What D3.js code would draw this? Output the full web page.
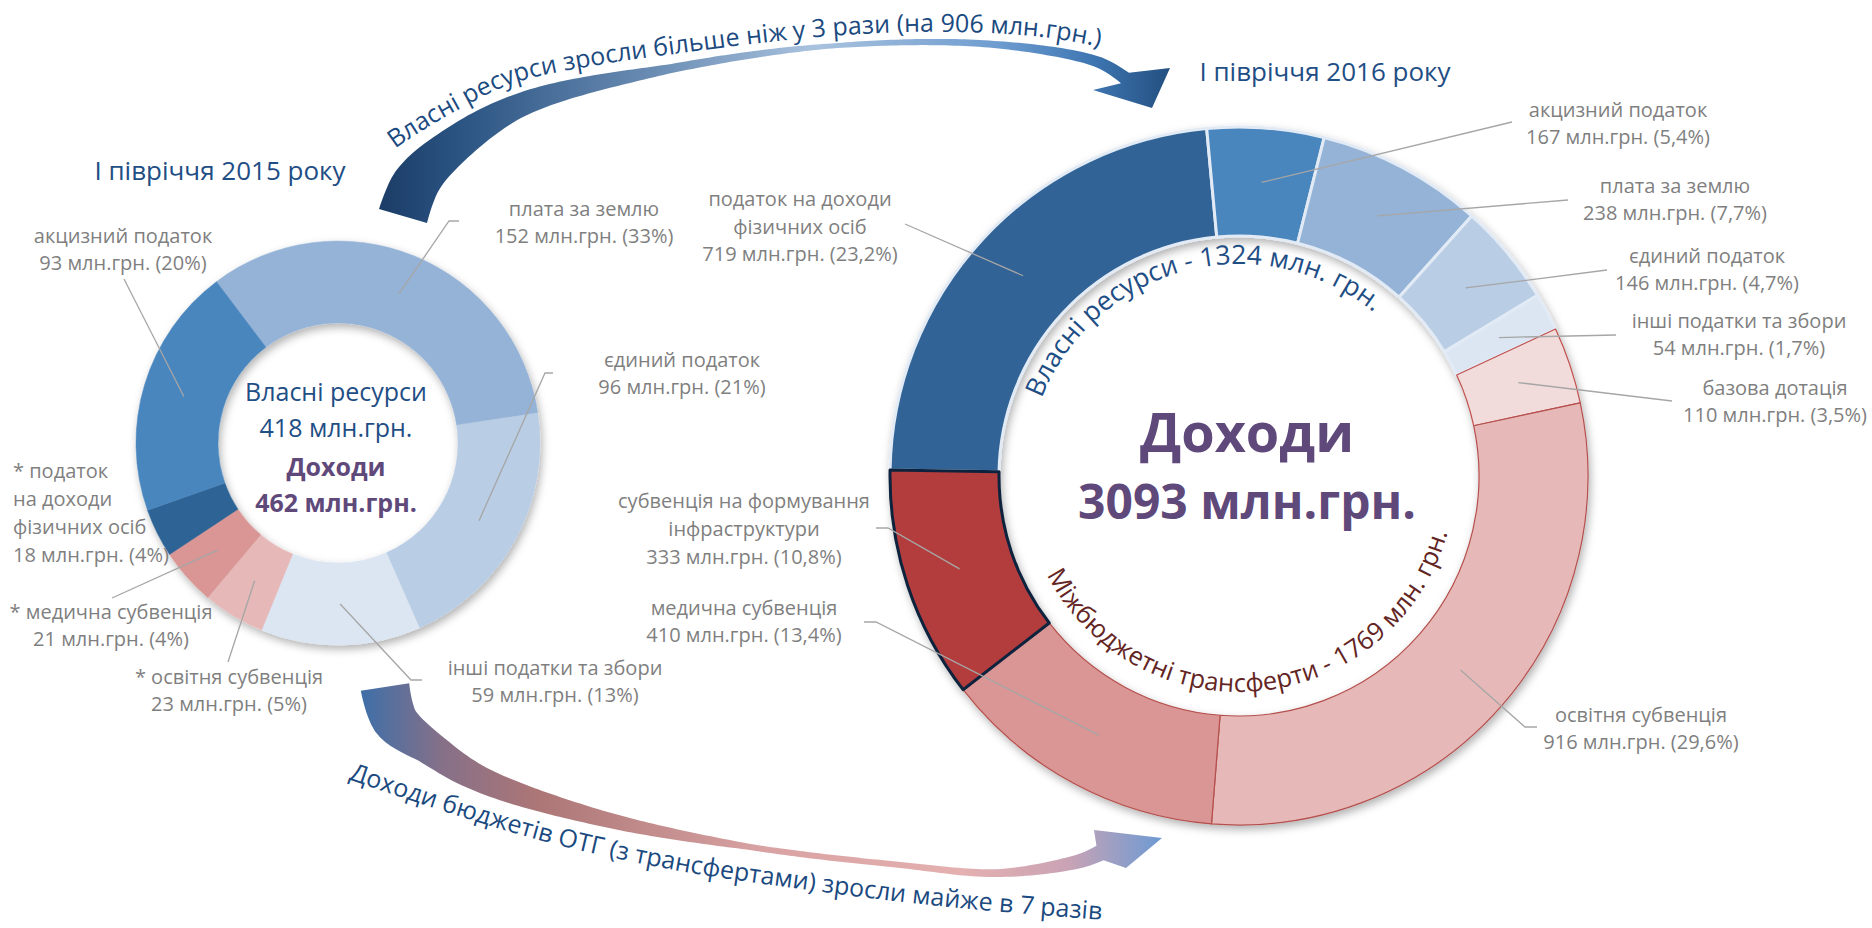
<!DOCTYPE html>
<html lang="uk">
<head>
<meta charset="UTF-8">
<title>Доходи бюджетів ОТГ</title>
<script src="https://d3js.org/d3.v7.min.js"></script>
<style>
  body { margin: 0; background: #fff; }
  svg { display: block; font-family: "Open Sans", sans-serif; }
  .lbl { fill: #7f7f7f; font-size: 20px; }
  .leader { fill: none; stroke: #a6a6a6; stroke-width: 1.3px; }
  .title { fill: #1f4e85; font-size: 26px; }
  .note { fill: #1b4a80; font-size: 25px; }
</style>
</head>
<body>
<svg id="chart" width="1872" height="928"></svg>
<script>
// ---- data: I півріччя 2015 ----
const names2015 = [["плата за землю"], ["єдиний податок"], ["інші податки та збори"],
  ["* освітня субвенція"], ["* медична субвенція"], ["* податок", "на доходи", "фізичних осіб"], ["акцизний податок"]];
const values2015 = [152, 96, 59, 23, 21, 18, 93];
const shares2015 = ["33%", "21%", "13%", "5%", "4%", "4%", "20%"];
const groups2015 = ["own", "own", "own", "tr", "tr", "own", "own"];

// ---- data: I півріччя 2016 ----
const names2016 = [["податок на доходи", "фізичних осіб"], ["акцизний податок"], ["плата за землю"],
  ["єдиний податок"], ["інші податки та збори"], ["базова дотація"], ["освітня субвенція"],
  ["медична субвенція"], ["субвенція на формування", "інфраструктури"]];
const values2016 = [719, 167, 238, 146, 54, 110, 916, 410, 333];
const shares2016 = ["23,2%", "5,4%", "7,7%", "4,7%", "1,7%", "3,5%", "29,6%", "13,4%", "10,8%"];
const groups2016 = ["own", "own", "own", "own", "own", "tr", "tr", "tr", "tr"];

const periods = ["І півріччя 2015 року", "І півріччя 2016 року"];

// ---- styles / layout ----
const colors2015 = ["#95b3d7", "#b9cde5", "#dce6f2", "#e6b9b8", "#d99694", "#2f6496", "#4a86be"];
const colors2016 = ["#316496", "#4a86be", "#95b3d7", "#b9cde5", "#dce6f2", "#f2dcdb", "#e6b9b8", "#d99694", "#b33c3d"];
const strokes2016 = ["#e2ebf5", "#e2ebf5", "#e2ebf5", "#e2ebf5", "#e2ebf5", "#c0504d", "#b5504e", "#b5504e", "#10243e"];
const strokeW2016 = [3, 3, 3, 3, 3, 1.2, 1.2, 1.2, 3];

const deg = Math.PI / 180;
const c15 = { x: 338, y: 443, r0: 120, r1: 202 };
const c16 = { x: 1239, y: 476, r0: 240, r1: 349 };

const layout2015 = [
  { x: 584, y: 216, leader: [[449, 221], [459, 221]] },
  { x: 682, y: 367, leader: [[545, 373], [553, 373]] },
  { x: 555, y: 675, leader: [[411, 680], [422, 680]] },
  { x: 229, y: 684, leader: [[228, 662]] },
  { x: 111, y: 619, leader: [[112, 598]] },
  { x: 13, y: 478, anchor: "start", lh: 28 },
  { x: 123, y: 243, leader: [[124, 279]] }
];
const layout2016 = [
  { x: 800, y: 206, lh: 27.5, leader: [[905, 224]] },
  { x: 1618, y: 117, leader: [[1512, 122]] },
  { x: 1675, y: 193, leader: [[1568, 200]] },
  { x: 1707, y: 263, leader: [[1607, 270]] },
  { x: 1739, y: 328, leader: [[1616, 335]] },
  { x: 1775, y: 395, leader: [[1672, 401]] },
  { x: 1641, y: 722, leader: [[1525, 727], [1537, 727]] },
  { x: 744, y: 615, leader: [[876, 622], [864, 622]] },
  { x: 744, y: 508, lh: 28, leader: [[888, 528], [876, 528]] }
];

const svg = d3.select("#chart");
const defs = svg.append("defs");

const shadow = defs.append("filter").attr("id", "shadow")
  .attr("x", "-10%").attr("y", "-10%").attr("width", "120%").attr("height", "120%");
shadow.append("feDropShadow").attr("dx", 2).attr("dy", 4).attr("stdDeviation", 4)
  .attr("flood-color", "#000").attr("flood-opacity", 0.3);

const gradient = (id, x1, x2, stops) => {
  const g = defs.append("linearGradient").attr("id", id)
    .attr("gradientUnits", "userSpaceOnUse").attr("x1", x1).attr("x2", x2).attr("y1", 0).attr("y2", 0);
  stops.forEach(s => g.append("stop").attr("offset", s[0]).attr("stop-color", s[1]));
};
gradient("gradTop", 378, 1170, [[0, "#1b3c66"], [0.1, "#2a5382"], [0.35, "#6b8db4"], [0.55, "#a9c2de"],
  [0.78, "#6f9dd0"], [0.9, "#3f77b3"], [1, "#234f80"]]);
gradient("gradBottom", 360, 1165, [[0, "#3d6fa8"], [0.1, "#857089"], [0.22, "#ad7676"], [0.5, "#d9a2a2"],
  [0.75, "#e4b0b0"], [0.88, "#c9a3b5"], [1, "#6a9ad4"]]);

// ---- curved arrows ----
function swoosh(pts, widths, head, fill) {
  const guide = svg.append("path").attr("fill", "none")
    .attr("d", d3.line().curve(d3.curveCatmullRom.alpha(0.5))(pts));
  const node = guide.node(), len = node.getTotalLength();
  const w = d3.scaleLinear().domain(widths.map(d => d[0])).range(widths.map(d => d[1]));
  const left = [], right = [];
  const n = 160;
  for (let i = 0; i <= n; i++) {
    const s = len * i / n;
    const p = node.getPointAtLength(s);
    const q0 = node.getPointAtLength(Math.max(0, s - 1));
    const q1 = node.getPointAtLength(Math.min(len, s + 1));
    let tx = q1.x - q0.x, ty = q1.y - q0.y;
    const m = Math.hypot(tx, ty);
    tx /= m; ty /= m;
    const h = w(i / n) / 2;
    left.push([p.x + ty * h, p.y - tx * h]);
    right.push([p.x - ty * h, p.y + tx * h]);
  }
  guide.remove();
  const outline = left.concat([head.left, head.tip, head.right], right.reverse());
  svg.append("path").attr("d", d3.line()(outline) + "Z").attr("fill", `url(#${fill})`);
}

swoosh([[403, 216], [415, 185], [440, 157], [518, 106], [674, 68], [831, 46], [988, 44], [1098, 62], [1125, 78]],
  [[0, 50], [0.04, 48], [0.09, 40], [0.21, 24], [0.41, 9], [0.62, 5], [0.82, 7], [0.96, 11], [1, 13]],
  { left: [1170, 68], tip: [1152, 108], right: [1093, 90] }, "gradTop");

swoosh([[385, 687], [395, 720], [430, 748], [480, 779], [600, 818], [750, 847], [900, 865], [1000, 873], [1080, 861], [1100, 853]],
  [[0, 49], [0.044, 46], [0.1, 34], [0.18, 26], [0.34, 16], [0.54, 6], [0.74, 6], [0.87, 8], [0.97, 14], [1, 16]],
  { left: [1094, 830], tip: [1162, 838], right: [1126, 868] }, "gradBottom");

const own15 = d3.sum(values2015.filter((v, i) => groups2015[i] === "own"));
const total15 = d3.sum(values2015);
const own16 = d3.sum(values2016.filter((v, i) => groups2016[i] === "own"));
const tr16 = d3.sum(values2016.filter((v, i) => groups2016[i] === "tr"));
const total16 = d3.sum(values2016);

const notes = [
  `Власні ресурси зросли більше ніж у 3 рази (на ${own16 - own15} млн.грн.)`,
  "Доходи бюджетів ОТГ (з трансфертами) зросли майже в 7 разів"
];
const noteLines = [
  [[380, 160], [406, 141], [454, 112], [514, 83], [598, 65], [674, 54], [760, 43], [831, 36], [910, 32], [988, 33], [1050, 38], [1118, 50]],
  [[333, 774], [443, 811], [558, 845], [680, 871], [800, 889], [920, 904], [1040, 915], [1118, 921]]
];
noteLines.forEach((pts, i) => {
  defs.append("path").attr("id", "note" + i)
    .attr("d", d3.line().curve(d3.curveCatmullRom.alpha(0.5))(pts));
  svg.append("text").attr("class", "note")
    .append("textPath").attr("href", "#note" + i)
    .attr("startOffset", "50%").attr("text-anchor", "middle").text(notes[i]);
});

// ---- titles ----
svg.append("text").attr("class", "title").attr("x", 220).attr("y", 180).attr("text-anchor", "middle").text(periods[0]);
svg.append("text").attr("class", "title").attr("x", 1325).attr("y", 81).attr("text-anchor", "middle").text(periods[1]);

// ---- donut 2015 ----
const pie15 = d3.pie().sort(null).startAngle(-37 * deg).endAngle(323 * deg);
const arc15 = d3.arc().innerRadius(c15.r0).outerRadius(c15.r1);
const arcs15 = pie15(values2015);
const g15 = svg.append("g").attr("transform", `translate(${c15.x},${c15.y})`);
g15.append("g").attr("filter", "url(#shadow)")
  .selectAll("path").data(arcs15).join("path")
  .attr("d", arc15).attr("fill", (d, i) => colors2015[i])
  .attr("stroke", (d, i) => colors2015[i]).attr("stroke-width", 0.5);

const center15 = [
  { t: "Власні ресурси", y: -42, fill: "#1f4e85", w: 400 },
  { t: `${own15} млн.грн.`, y: -6, fill: "#1f4e85", w: 400 },
  { t: "Доходи", y: 33, fill: "#5f497a", w: 700 },
  { t: `${total15} млн.грн.`, y: 69, fill: "#5f497a", w: 700 }
];
g15.selectAll("text.c").data(center15).join("text").attr("class", "c")
  .attr("x", -2).attr("y", d => d.y).attr("text-anchor", "middle")
  .attr("font-size", 25).attr("font-weight", d => d.w).attr("fill", d => d.fill).text(d => d.t);

// ---- donut 2016 ----
const pie16 = d3.pie().sort(null).startAngle(-89 * deg).endAngle(271 * deg);
const arc16 = d3.arc().innerRadius(c16.r0).outerRadius(c16.r1);
const arcs16 = pie16(values2016);
const g16 = svg.append("g").attr("transform", `translate(${c16.x},${c16.y})`);
g16.append("g").attr("filter", "url(#shadow)")
  .selectAll("path").data(arcs16).join("path")
  .attr("d", arc16).attr("fill", (d, i) => colors2016[i])
  .attr("stroke", (d, i) => strokes2016[i]).attr("stroke-width", (d, i) => strokeW2016[i])
  .attr("stroke-linejoin", "round");

g16.append("text").attr("x", 8).attr("y", -24).attr("text-anchor", "middle")
  .attr("font-size", 54).attr("font-weight", 700).attr("fill", "#5f497a").text("Доходи");
g16.append("text").attr("x", 8).attr("y", 43).attr("text-anchor", "middle")
  .attr("font-size", 48).attr("font-weight", 700).attr("fill", "#5f497a").text(`${total16} млн.грн.`);

function ringPath(r, a0, a1) {
  const p = a => [r * Math.sin(a * deg), -r * Math.cos(a * deg)];
  const [x0, y0] = p(a0), [x1, y1] = p(a1);
  const sweep = a1 > a0 ? 1 : 0;
  const large = Math.abs(a1 - a0) > 180 ? 1 : 0;
  return `M${x0},${y0}A${r},${r} 0 ${large} ${sweep} ${x1},${y1}`;
}
const ringTexts = [
  { id: "ringOwn", d: ringPath(212, -104, 75), size: 26.5, text: `Власні ресурси - ${own16} млн. грн.`, fill: "#1f4e85" },
  { id: "ringTr", d: ringPath(216, 263, 85), size: 25.5, text: `Міжбюджетні трансферти - ${tr16} млн. грн.`, fill: "#632523" }
];
ringTexts.forEach(r => {
  g16.append("path").attr("id", r.id).attr("d", r.d).attr("fill", "none");
  g16.append("text").attr("font-size", r.size).attr("fill", r.fill)
    .append("textPath").attr("href", "#" + r.id).attr("startOffset", "50%")
    .attr("text-anchor", "middle").text(r.text);
});

// ---- labels + leader lines ----
function drawLabels(arcs, gen, c, names, values, shares, layout) {
  const g = svg.append("g");
  arcs.forEach((a, i) => {
    const L = layout[i];
    const lh = L.lh || 27;
    if (L.leader) {
      const cc = gen.centroid(a);
      g.append("path").attr("class", "leader")
        .attr("d", d3.line()([[c.x + cc[0], c.y + cc[1]], ...L.leader]));
    }
    const lines = names[i].concat(`${values[i]} млн.грн. (${shares[i]})`);
    const t = g.append("text").attr("class", "lbl").attr("text-anchor", L.anchor || "middle");
    lines.forEach((s, k) => t.append("tspan").attr("x", L.x).attr("y", L.y + k * lh).text(s));
  });
}
drawLabels(arcs15, arc15, c15, names2015, values2015, shares2015, layout2015);
drawLabels(arcs16, arc16, c16, names2016, values2016, shares2016, layout2016);
</script>
</body>
</html>
